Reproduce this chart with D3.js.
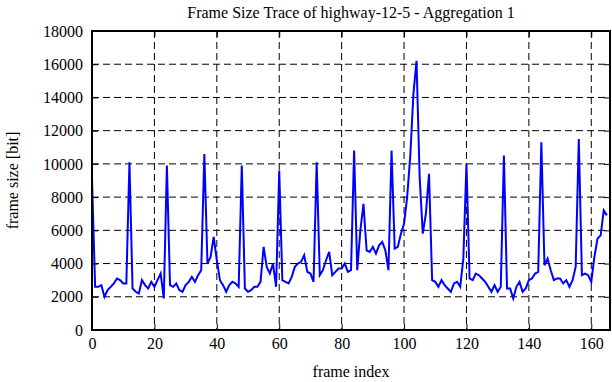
<!DOCTYPE html>
<html>
<head>
<meta charset="utf-8">
<script src="https://cdn.jsdelivr.net/npm/d3@7"></script>
<style>
  body { margin: 0; background: #fff; }
  text { font-family: "Liberation Serif", "DejaVu Serif", serif; fill: #000; }
  .grid line { stroke: #000; stroke-width: 1; stroke-dasharray: 7,4; }
  .axis path { display: none; }
  .axis line { stroke: #000; stroke-width: 1; }
</style>
</head>
<body>
<div id="chart"></div>
<script>
// frame sizes in bit, one per frame index 0..165
const frameSize = [
  9100, 2600, 2600, 2700, 2000, 2400, 2600, 2800, 3100, 3000,
  2800, 2800, 10100, 2500, 2300, 2200, 3000, 2700, 2500, 2900,
  2600, 3000, 3400, 1900, 9900, 2700, 2600, 2800, 2400, 2300,
  2700, 2900, 3200, 2900, 3300, 3600, 10600, 4000, 4400, 5600,
  4200, 3000, 2700, 2300, 2700, 2900, 2800, 2600, 9900, 2500,
  2300, 2400, 2600, 2600, 2900, 5000, 3800, 3400, 4000, 2600,
  9600, 3000, 2900, 2800, 3200, 3800, 4000, 4100, 4500, 3500,
  3400, 2900, 10100, 3300, 3600, 4200, 4700, 3300, 3500, 3700,
  3700, 4000, 3500, 3600, 10800, 3600, 6000, 7600, 4800, 4700,
  5000, 4600, 5100, 5300, 4800, 3600, 10800, 4900, 5000, 5800,
  6400, 8000, 10500, 14200, 16200, 9200, 5800, 7000, 9400, 3000,
  2900, 2600, 3000, 2700, 2500, 2300, 2800, 2900, 2600, 4300,
  10000, 3100, 3000, 3400, 3300, 3100, 2900, 2600, 2300, 2700,
  2300, 2600, 10500, 2500, 2500, 1900, 2600, 2900, 2300, 2500,
  3000, 3100, 3400, 3500, 11300, 3900, 4300, 3600, 3000, 3100,
  3100, 2800, 3000, 2600, 3000, 3800, 11500, 3300, 3400, 3300,
  2900, 4400, 5500, 5700, 7200, 6900
];
const xTicks = [0, 20, 40, 60, 80, 100, 120, 140, 160];
const yTicks = [0, 2000, 4000, 6000, 8000, 10000, 12000, 14000, 16000, 18000];
const titleText = "Frame Size Trace of highway-12-5 - Aggregation 1";
const xLabel = "frame index";
const yLabel = "frame size [bit]";

const W = 612, H = 382;
const margin = {top: 31, right: 2, bottom: 52, left: 92};
const width = W - margin.left - margin.right;
const height = H - margin.top - margin.bottom;

const svg = d3.select("#chart").append("svg")
    .attr("width", W)
    .attr("height", H);

const g = svg.append("g")
    .attr("transform", `translate(${margin.left},${margin.top})`);

const x = d3.scaleLinear().domain([0, 166]).range([0, width]);
const y = d3.scaleLinear().domain([0, 18000]).range([height, 0]);

// dashed grid
g.append("g").attr("class", "grid")
  .selectAll("line")
  .data(yTicks.filter(d => d > 0 && d < 18000))
  .join("line")
    .attr("x1", 0).attr("x2", width)
    .attr("y1", d => y(d)).attr("y2", d => y(d));

g.append("g").attr("class", "grid")
  .selectAll("line")
  .data(xTicks.filter(d => d > 0))
  .join("line")
    .attr("y1", 0).attr("y2", height)
    .attr("x1", d => x(d)).attr("x2", d => x(d));

// axes with inward ticks
g.append("g").attr("class", "axis")
    .call(d3.axisLeft(y).tickValues(yTicks).tickSize(-6).tickPadding(9).tickFormat(d3.format("d")))
    .selectAll("text").style("font-size", "16px");

g.append("g").attr("class", "axis")
    .attr("transform", `translate(${width},0)`)
    .call(d3.axisRight(y).tickValues(yTicks).tickSize(-6).tickFormat(""));

g.append("g").attr("class", "axis")
    .attr("transform", `translate(0,${height})`)
    .call(d3.axisBottom(x).tickValues(xTicks).tickSize(-6).tickPadding(8).tickFormat(d3.format("d")))
    .selectAll("text").style("font-size", "16px");

g.append("g").attr("class", "axis")
    .call(d3.axisTop(x).tickValues(xTicks).tickSize(-6).tickFormat(""));

// trace
const line = d3.line()
    .x((d, i) => x(i))
    .y(d => y(d));

g.append("path")
    .datum(frameSize)
    .attr("fill", "none")
    .attr("stroke", "#0000ff")
    .attr("stroke-width", 2)
    .attr("stroke-linejoin", "miter")
    .attr("d", line);

// border
g.append("rect")
    .attr("width", width)
    .attr("height", height)
    .attr("fill", "none")
    .attr("stroke", "#000")
    .attr("stroke-width", 2);

// labels
svg.append("text")
    .attr("x", margin.left + width / 2)
    .attr("y", 18)
    .attr("text-anchor", "middle")
    .style("font-size", "16px")
    .text(titleText);

svg.append("text")
    .attr("x", margin.left + width / 2)
    .attr("y", 377)
    .attr("text-anchor", "middle")
    .style("font-size", "16px")
    .text(xLabel);

svg.append("text")
    .attr("transform", `translate(18,${margin.top + height / 2}) rotate(-90)`)
    .attr("text-anchor", "middle")
    .style("font-size", "16px")
    .text(yLabel);
</script>
</body>
</html>
